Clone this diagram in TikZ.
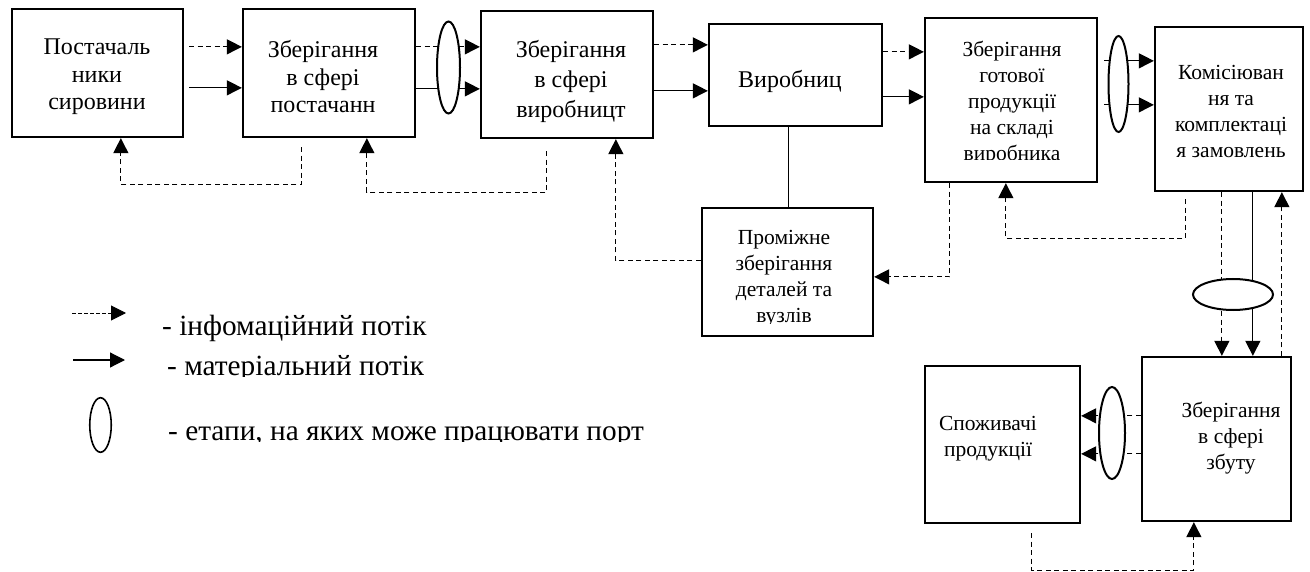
\documentclass[tikz,border=0pt]{standalone}
\usepackage{fontspec}
\setmainfont{Liberation Serif}
\usetikzlibrary{arrows.meta,shapes.geometric,calc}

\tikzset{
  stage/.style={draw, line width=2.3pt, rectangle, inner sep=0pt},
  port/.style={draw, ellipse, line width=2pt, fill=white, inner sep=0pt},
  label big/.style={font=\fontsize{24}{27.5}\selectfont, align=center, inner sep=0pt},
  label small/.style={font=\fontsize{21.5}{26}\selectfont, align=center, inner sep=0pt},
  tip/.style={-{Triangle[length=15pt,width=15pt]}},
  infoflow/.style={line width=1.2pt, dash pattern=on 5pt off 3.5pt, tip},
  matflow/.style={line width=1.2pt, tip},
  solidlink/.style={line width=1.2pt},
  legendtext/.style={font=\fontsize{29.3}{33}\selectfont, inner sep=0pt, anchor=base west},
}

\begin{document}
\begin{tikzpicture}[x=1pt,y=-1pt]
\useasboundingbox[fill=white] (0,0) rectangle (1310,572);

% stages of the chain
\node[stage, minimum width=171pt, minimum height=128pt] (b1) at (97.5,73) {};
\node[stage, minimum width=172pt, minimum height=128pt] (b2) at (329,73) {};
\node[stage, minimum width=172pt, minimum height=127pt] (b3) at (567,74.5) {};
\node[stage, minimum width=173pt, minimum height=102pt] (b4) at (795.5,75) {};
\node[stage, minimum width=172pt, minimum height=164pt] (b5) at (1011,100) {};
\node[stage, minimum width=148pt, minimum height=164pt] (b6) at (1229,109) {};
\node[stage, minimum width=171pt, minimum height=128pt] (b7) at (787.5,272) {};
\node[stage, minimum width=149pt, minimum height=164pt] (b8) at (1216.5,439) {};
\node[stage, minimum width=155pt, minimum height=157pt] (b9) at (1002.5,444.5) {};

% captions
\node[label big] (t1) at (97,77) {Постачаль\\ники\\сировини};
\node[label big] (t2) at (323,77) {Зберігання\\в сфері\\постачанн};
\node[label big, font=\fontsize{24}{30}\selectfont] (t3) at (571,81) {Зберігання\\в сфері\\виробницт};
\node[label big] (t4) at (790,81) {Виробниц};
\begin{scope}
  \clip (b5.north west) rectangle ($(b5.south east)+(0,-24)$);
  \node[label small] (t5) at (1012,103) {Зберігання\\готової\\продукції\\на складі\\виробника};
\end{scope}
\node[label small] (t6) at (1231,111) {Комісіюван\\ня та\\комплектаці\\я замовлень};
\begin{scope}
  \clip (b7.north west) rectangle ($(b7.south east)+(0,-14)$);
  \node[label small] (t7) at (784,279) {Проміжне\\зберігання\\деталей та\\вузлів};
\end{scope}
\node[label small] (t8) at (1231,438) {Зберігання\\в сфері\\збуту};
\node[label small] (t9) at (988,438.5) {Споживачі\\продукції};

% forward flows along the top row
\draw[infoflow] ($(b1.north east)+(5,39)$) -- ($(b2.north west)+(0,39)$);
\draw[matflow]  ($(b1.north east)+(5,80)$) -- ($(b2.north west)+(0,80)$);
\draw[infoflow] ($(b2.north east)+(0,39)$) -- ($(b3.north west)+(0,37)$);
\draw[matflow]  ($(b2.north east)+(0,81)$) -- ($(b3.north west)+(0,79)$);
\draw[infoflow] ($(b3.north east)+(0,35)$) -- ($(b4.north west)+(0,22)$);
\draw[matflow]  ($(b3.north east)+(0,81)$) -- ($(b4.north west)+(0,68)$);
\draw[infoflow] ($(b4.north east)+(0,29)$) -- ($(b5.north west)+(0,35)$);
\draw[matflow]  ($(b4.north east)+(0,74)$) -- ($(b5.north west)+(0,80)$);
\draw[matflow]  ($(b5.north east)+(6,44)$) -- ($(b6.north west)+(0,35)$);
\draw[matflow]  ($(b5.north east)+(6,88)$) -- ($(b6.north west)+(0,79)$);

% feedback under the top row
\draw[infoflow] ($(b2.south west)+(60,9)$) -- ($(b2.south west)+(60,46)$) -| ($(b1.south west)+(110,0)$);
\draw[infoflow] ($(b3.south west)+(67,12)$) -- ($(b3.south west)+(67,53)$) -| ($(b2.south west)+(125,0)$);
\draw[infoflow] ($(b6.south west)+(32,7)$) -- ($(b6.south west)+(32,46)$) -| ($(b5.south west)+(82,0)$);
\draw[infoflow] ($(b5.south west)+(26,0)$) |- ($(b7.north east)+(0,70)$);
\draw[infoflow] ($(b7.north west)+(0,54)$) -| ($(b3.south west)+(136,0)$);
\draw[solidlink] ($(b4.south west)+(81,0)$) -- ($(b7.north west)+(88,0)$);

% down to distribution and on to consumers
\draw[infoflow] ($(b6.south west)+(68,0)$) -- ($(b8.north west)+(81,0)$);
\draw[matflow]  ($(b6.south west)+(99,0)$) -- ($(b8.north west)+(112,0)$);
\draw[infoflow] ($(b8.north west)+(141,0)$) -- ($(b6.south west)+(128,0)$);
\draw[infoflow] ($(b8.north west)+(0,60)$) -- ($(b9.north east)+(0,51)$);
\draw[infoflow] ($(b8.north west)+(0,98)$) -- ($(b9.north east)+(0,89)$);
\draw[infoflow] ($(b9.south west)+(108,9)$) -- ($(b9.south west)+(108,46)$) -| ($(b8.south west)+(53,0)$);

% port stages
\node[port, minimum width=23pt, minimum height=92pt] (e1) at (448.5,67.5) {};
\node[port, minimum width=20pt, minimum height=96pt] (e2) at (1118.5,84) {};
\node[port, minimum width=80pt, minimum height=31pt] (e3) at (1233,294.5) {};
\node[port, minimum width=26pt, minimum height=92pt] (e4) at (1112,433) {};

% legend
\coordinate (li0) at (72,313);
\coordinate (li1) at (126,313);
\draw[line width=1pt, dash pattern=on 4pt off 2pt, tip] (li0) -- (li1);
\node[legendtext] (l1) at (162,335) {- інфомаційний потік};
\coordinate (lm0) at (73,360);
\coordinate (lm1) at (125,360);
\draw[line width=1.2pt, tip] (lm0) -- (lm1);
\begin{scope}
  \clip (150,340) rectangle (700,376);
  \node[legendtext] (l2) at (167,375) {- матеріальний потік};
\end{scope}
\node[port, line width=1.6pt, minimum width=21.5pt, minimum height=54.5pt] (lp) at (100.5,425) {};
\begin{scope}
  \clip (150,400) rectangle (700,441);
  \node[legendtext] (l3) at (168,440) {- етапи, на яких може працювати порт};
\end{scope}
\end{tikzpicture}
\end{document}
